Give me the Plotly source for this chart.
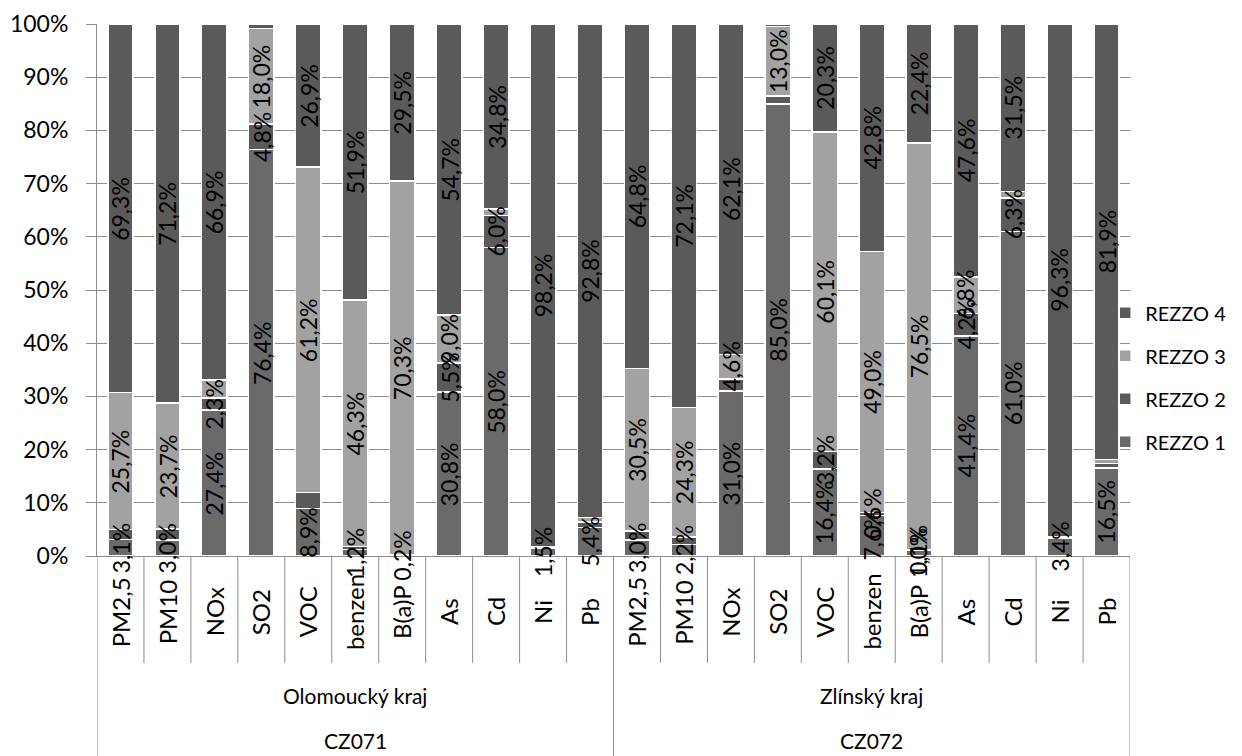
import plotly.graph_objects as go

pollutants = ["PM2,5", "PM10", "NOx", "SO2", "VOC", "benzen", "B(a)P", "As", "Cd", "Ni", "Pb"]
regions = ["Olomoucký kraj", "Zlínský kraj"]
region_codes = ["CZ071", "CZ072"]

# values in % (Olomoucký kraj, then Zlínský kraj)
rezzo1_olo = [3.1, 3.0, 27.4, 76.4, 8.9, 1.2, 0.2, 30.8, 58.0, 1.5, 5.4]
rezzo2_olo = [1.9, 2.1, 2.3, 4.8, 3.0, 0.6, 0.0, 5.5, 6.0, 0.2, 1.0]
rezzo3_olo = [25.7, 23.7, 3.4, 18.0, 61.2, 46.3, 70.3, 9.0, 1.2, 0.1, 0.8]
rezzo4_olo = [69.3, 71.2, 66.9, 0.8, 26.9, 51.9, 29.5, 54.7, 34.8, 98.2, 92.8]

rezzo1_zl = [3.0, 2.2, 31.0, 85.0, 16.4, 7.6, 1.0, 41.4, 61.0, 3.4, 16.5]
rezzo2_zl = [1.7, 1.4, 2.3, 1.5, 3.2, 0.6, 0.1, 4.2, 6.3, 0.2, 0.9]
rezzo3_zl = [30.5, 24.3, 4.6, 13.0, 60.1, 49.0, 76.5, 6.8, 1.2, 0.1, 0.7]
rezzo4_zl = [64.8, 72.1, 62.1, 0.5, 20.3, 42.8, 22.4, 47.6, 31.5, 96.3, 81.9]

# which data labels are displayed (1 = shown)
show1 = [1, 1, 1, 1, 1, 1, 1, 1, 1, 1, 1] + [1, 1, 1, 1, 1, 1, 1, 1, 1, 1, 1]
show2 = [0, 0, 1, 1, 0, 0, 0, 1, 1, 0, 0] + [0, 0, 0, 0, 1, 1, 1, 1, 1, 0, 0]
show3 = [1, 1, 0, 1, 1, 1, 1, 1, 0, 0, 0] + [1, 1, 1, 1, 1, 1, 1, 1, 0, 0, 0]
show4 = [1, 1, 1, 0, 1, 1, 1, 1, 1, 1, 1] + [1, 1, 1, 0, 1, 1, 1, 1, 1, 1, 1]

series_names = ["REZZO 1", "REZZO 2", "REZZO 3", "REZZO 4"]
legend_ranks = [4, 3, 2, 1]
colors = ["#6a6a6a", "#5a5a5a", "#a2a2a2", "#5a5a5a"]

keys = [r + "|" + p for r in regions for p in pollutants]
tick_text = pollutants + pollutants

values = [rezzo1_olo + rezzo1_zl, rezzo2_olo + rezzo2_zl,
          rezzo3_olo + rezzo3_zl, rezzo4_olo + rezzo4_zl]
shows = [show1, show2, show3, show4]


def fmt(v):
    return ("%.1f%%" % v).replace(".", ",")


FONT = "Lato"
fig = go.Figure()
for name, rank, col, vals in zip(series_names, legend_ranks, colors, values):
    fig.add_trace(go.Bar(
        x=keys, y=vals, name=name, legendgroup=name, legendrank=rank,
        marker=dict(color=col, line=dict(color="white", width=1.5)),
        hoverinfo="skip",
    ))

# data labels drawn on top of every segment (as Excel does)
annotations = []
n = len(keys)
for i in range(n):
    cum = 0.0
    for vals, sh in zip(values, shows):
        v = vals[i]
        if sh[i]:
            annotations.append(dict(x=keys[i], y=cum + v / 2, xref="x", yref="y",
                                    text=fmt(v), textangle=-90, showarrow=False,
                                    xanchor="center", yanchor="middle",
                                    font=dict(family=FONT, size=23, color="black")))
        cum += v

# category labels, centred in their band like Excel
for i in range(n):
    annotations.append(dict(x=keys[i], y=-0.105, xref="x", yref="paper",
                            text=tick_text[i], textangle=-90, showarrow=False,
                            xanchor="center", yanchor="middle",
                            font=dict(family=FONT, size=24, color="black")))

shapes = []
for i in range(n + 1):
    long_line = i in (0, n // 2, n)
    shapes.append(dict(type="line", xref="x", yref="paper",
                       x0=i - 0.5, x1=i - 0.5, y0=0,
                       y1=-0.376 if long_line else -0.201,
                       line=dict(color="#8c8c8c", width=1)))

for k, (reg, code) in enumerate(zip(regions, region_codes)):
    cx = k * 11 + 5
    annotations.append(dict(x=cx, y=-0.262, xref="x", yref="paper", text=reg,
                            showarrow=False, xanchor="center", yanchor="middle",
                            font=dict(family=FONT, size=21, color="black")))
    annotations.append(dict(x=cx, y=-0.346, xref="x", yref="paper", text=code,
                            showarrow=False, xanchor="center", yanchor="middle",
                            font=dict(family=FONT, size=21, color="black")))

# the page body adds an 8px offset, so the figure is 8px smaller with shifted margins
fig.update_layout(
    width=1234, height=748,
    margin=dict(l=89, r=112, t=16, b=200, autoexpand=False),
    barmode="stack", bargap=0.46,
    plot_bgcolor="white", paper_bgcolor="white",
    font=dict(family=FONT, size=20, color="black"),
    shapes=shapes, annotations=annotations,
    legend=dict(x=0.976, y=0.336, xanchor="left", yanchor="middle",
                traceorder="grouped", font=dict(family=FONT, size=20),
                itemwidth=30, tracegroupgap=14, bgcolor="rgba(0,0,0,0)"),
    xaxis=dict(type="category", tickvals=keys, ticktext=tick_text, showticklabels=False,
               showgrid=False, showline=True, linecolor="#8c8c8c", ticks="",
               range=[-0.5, n - 0.5], automargin=False),
    yaxis=dict(range=[0, 100], dtick=10, ticksuffix="%", showgrid=True,
               gridcolor="#8c8c8c", gridwidth=1, showline=True, linecolor="#8c8c8c",
               ticks="outside", ticklen=10, tickcolor="#8c8c8c", ticklabelstandoff=13,
               tickfont=dict(family=FONT, size=23), zeroline=False, automargin=False),
)

fig.write_html("out.html")
